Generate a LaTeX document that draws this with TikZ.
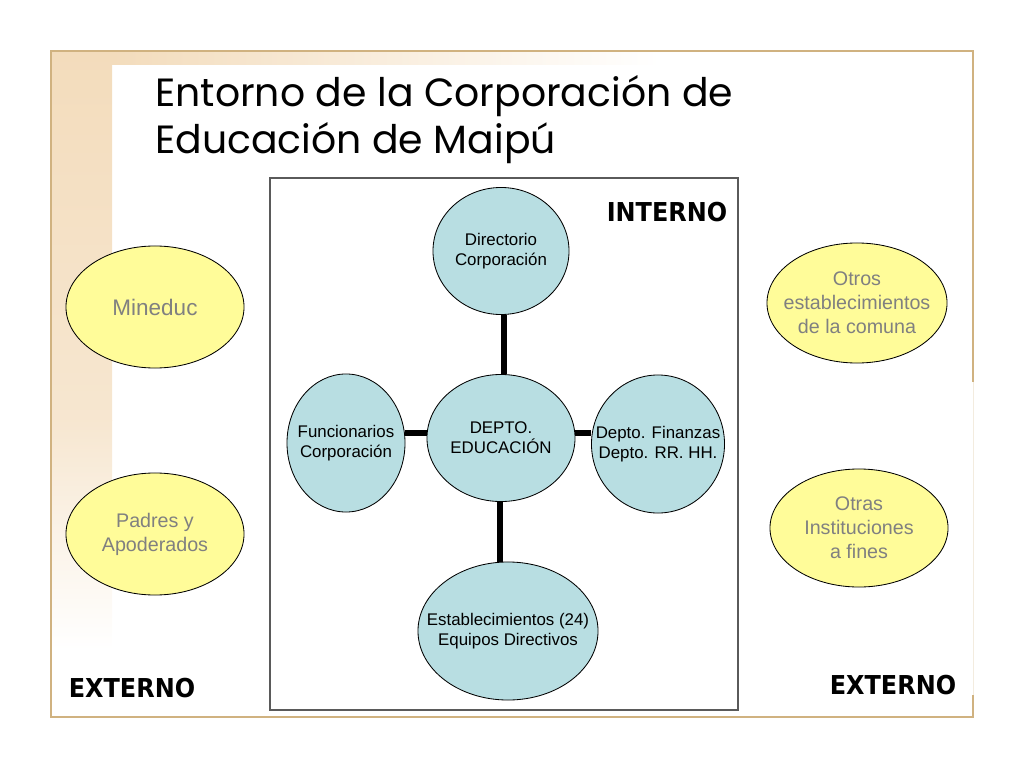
\documentclass[tikz,border=0pt]{standalone}
\usepackage{fontspec}
\setmainfont{Liberation Sans}
\newfontfamily\titlefont{Poppins}
\newfontfamily\tagfont[FakeStretch=0.92]{DejaVu Sans}
\usetikzlibrary{shapes.geometric}

\definecolor{frametan}{RGB}{208,178,128}
\definecolor{bandtan}{RGB}{243,220,188}
\definecolor{deptblue}{RGB}{184,222,226}
\definecolor{extyellow}{RGB}{255,252,153}
\definecolor{extgray}{RGB}{128,128,128}
\definecolor{boxgray}{RGB}{90,90,90}

\tikzset{
  deptnode/.style={ellipse, draw=black, line width=0.6pt, fill=deptblue, inner sep=0pt},
  depttext/.style={align=center, inner sep=0pt, font=\fontsize{12}{14}\selectfont},
  extnode/.style={ellipse, draw=black, line width=0.6pt, fill=extyellow, inner sep=0pt},
  exttext/.style={align=center, inner sep=0pt, text=extgray, font=\fontsize{14}{17}\selectfont},
  tagtext/.style={font=\tagfont\bfseries\fontsize{18.5}{20}\selectfont, inner sep=0pt},
  titletext/.style={font=\titlefont\fontsize{28}{34}\selectfont, inner sep=0pt, anchor=base west},
  link/.style={line width=4.3pt, black},
}

\begin{document}
\begin{tikzpicture}[x=0.025cm, y=-0.025cm]
    \useasboundingbox (0,0) rectangle (1024,768);

    % Background bands
    \shade[top color=bandtan, bottom color=bandtan!70] (52,52) rectangle (112,420);
    \shade[top color=bandtan!70, bottom color=white] (52,420) rectangle (112,650);
    \shade[left color=bandtan, right color=white] (112,52) rectangle (660,65);

    % Frame
    \draw[frametan, line width=1.8pt] (973,382) -- (973,51) -- (51,51) -- (51,717) -- (973,717) -- (973,695);
    \draw[frametan!25, line width=0.6pt] (973,382) -- (973,695);

    % Title
    \node[titletext] (title1) at (155,107) {Entorno de la Corporación de};
    \node[titletext] (title2) at (155,153) {Educación de Maipú};

    % Internal area
    \draw[boxgray, line width=0.8pt] (270,178) rectangle (738,710);
    \node[tagtext] (interno) at (667,212) {INTERNO};

    \node[deptnode, minimum width=3.4cm, minimum height=3.175cm,
          label={[depttext]center:{Directorio\\Corporación}}] (dir) at (501,251) {};
    \node[deptnode, minimum width=3.7cm, minimum height=3.175cm,
          label={[depttext]center:{DEPTO.\\EDUCACIÓN}}] (depto) at (501,438) {};
    \node[deptnode, minimum width=2.95cm, minimum height=3.45cm,
          label={[depttext]center:{Funcionarios\\Corporación}}] (func) at (346,443) {};
    \node[deptnode, minimum width=3.325cm, minimum height=3.45cm,
          label={[depttext]center:{Depto. Finanzas\\Depto. RR. HH.}}] (fin) at (658,444) {};
    \node[deptnode, minimum width=4.5cm, minimum height=3.45cm,
          label={[depttext]center:{Establecimientos (24)\\Equipos Directivos}}] (est) at (508,631) {};

    \draw[link] (dir.south -| 504,0) -- (depto.north -| 504,0);
    \draw[link] (func.east |- 0,433) -- (depto.west |- 0,433);
    \draw[link] (depto.east |- 0,433) -- (fin.west |- 0,433);
    \draw[link] (depto.south -| 500,0) -- (est.north -| 500,0);

    % External actors
    \node[extnode, minimum width=4.45cm, minimum height=3.05cm,
          label={[exttext, font=\fontsize{16}{19}\selectfont]center:Mineduc}] (mineduc) at (155,307) {};
    \node[extnode, minimum width=4.45cm, minimum height=3.05cm,
          label={[exttext]center:{Padres y\\Apoderados}}] (padres) at (155,534) {};
    \node[extnode, minimum width=4.5cm, minimum height=3.0cm,
          label={[exttext]center:{Otros\\establecimientos\\de la comuna}}] (otros) at (857,303) {};
    \node[extnode, minimum width=4.45cm, minimum height=2.95cm,
          label={[exttext]center:{Otras\\Instituciones\\a fines}}] (inst) at (859,528) {};

    \node[tagtext] (externoL) at (132,688) {EXTERNO};
    \node[tagtext] (externoR) at (893,685) {EXTERNO};
\end{tikzpicture}
\end{document}
